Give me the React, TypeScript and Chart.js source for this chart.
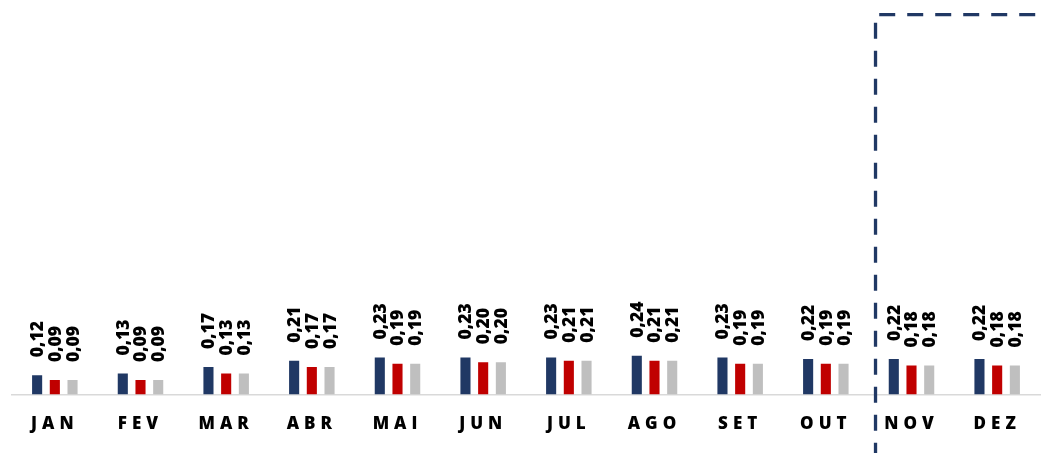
import React, { useEffect, useRef } from "react";
import { Chart, registerables } from "chart.js";

Chart.register(...registerables);

const categories = ["JAN", "FEV", "MAR", "ABR", "MAI", "JUN", "JUL", "AGO", "SET", "OUT", "NOV", "DEZ"];
const seriesNavy = [0.12, 0.13, 0.17, 0.21, 0.23, 0.23, 0.23, 0.24, 0.23, 0.22, 0.22, 0.22];
const seriesRed = [0.09, 0.09, 0.13, 0.17, 0.19, 0.2, 0.21, 0.21, 0.19, 0.19, 0.18, 0.18];
const seriesGray = [0.09, 0.09, 0.13, 0.17, 0.19, 0.2, 0.21, 0.21, 0.19, 0.19, 0.18, 0.18];
const seriesNames = ["Série 1", "Série 2", "Série 3"];
const boxStartIndex = 9.58;
const boxTopValue = 2.35;
const yMax = 2.44;

const NAVY = "#203864";
const RED = "#C00000";
const GRAY = "#BFBFBF";

const valueLabels = {
  id: "valueLabels",
  afterDatasetsDraw(chart: any) {
    const ctx = chart.ctx;
    ctx.save();
    ctx.letterSpacing = "0px";
    ctx.font = "800 17.5px 'Open Sans'";
    ctx.fillStyle = "#000000";
    ctx.textAlign = "left";
    ctx.textBaseline = "middle";
    chart.data.datasets.forEach((ds: any, i: number) => {
      const meta = chart.getDatasetMeta(i);
      meta.data.forEach((bar: any, j: number) => {
        const v = ds.data[j];
        const text = v.toFixed(2).replace(".", ",");
        ctx.save();
        ctx.translate(bar.x + 1, bar.y - 18);
        ctx.rotate(-Math.PI / 2);
        ctx.fillText(text, 0, 0);
        ctx.restore();
      });
    });
    ctx.restore();
  },
};

const tickSpacing = {
  id: "tickSpacing",
  beforeDraw(chart: any) {
    chart.ctx.letterSpacing = "5px";
  },
  beforeDatasetsDraw(chart: any) {
    chart.ctx.letterSpacing = "0px";
  },
};

const forecastBox = {
  id: "forecastBox",
  afterDraw(chart: any) {
    const { ctx } = chart;
    const x = chart.scales.x;
    const y = chart.scales.y;
    const left = x.getPixelForValue(boxStartIndex);
    const top = y.getPixelForValue(boxTopValue);
    const bottom = chart.height + 10;
    const right = chart.width + 20;
    const L = bottom - top;
    ctx.save();
    ctx.letterSpacing = "0px";
    ctx.strokeStyle = NAVY;
    ctx.lineWidth = 3.3;
    ctx.setLineDash([16, 12]);
    ctx.lineDashOffset = (((24.3 - L) % 28) + 28) % 28;
    ctx.beginPath();
    ctx.moveTo(left, bottom);
    ctx.lineTo(left, top);
    ctx.lineTo(right, top);
    ctx.stroke();
    ctx.restore();
  },
};

export default function App() {
  const canvasRef = useRef<HTMLCanvasElement>(null);

  useEffect(() => {
    document.body.style.margin = "0";
    const canvas = canvasRef.current;
    if (!canvas) return;
    const chart = new Chart(canvas, {
      type: "bar",
      data: {
        labels: categories,
        datasets: [
          { label: seriesNames[0], data: seriesNavy, backgroundColor: NAVY },
          { label: seriesNames[1], data: seriesRed, backgroundColor: RED },
          { label: seriesNames[2], data: seriesGray, backgroundColor: GRAY },
        ],
      },
      options: {
        animation: false,
        responsive: false,
        devicePixelRatio: 1,
        layout: { padding: { left: 12, right: 6, top: 0, bottom: 0 } },
        datasets: {
          bar: { categoryPercentage: 0.62, barPercentage: 0.57 },
        },
        plugins: {
          legend: { display: false },
          tooltip: { enabled: false },
          title: { display: false },
        },
        scales: {
          x: {
            grid: { display: false, drawTicks: false },
            border: { display: true, color: "#D9D9D9", width: 1.5 },
            ticks: {
              autoSkip: false,
              maxRotation: 0,
              minRotation: 0,
              padding: 19,
              color: "#000000",
              font: { family: "'Open Sans'", size: 17, weight: "800" },
            },
          },
          y: {
            display: false,
            min: 0,
            max: yMax,
          },
        },
      },
      plugins: [tickSpacing, valueLabels, forecastBox],
    });
    return () => chart.destroy();
  }, []);

  return (
    <div style={{ width: 1046, height: 453, position: "relative" }}>
      <canvas ref={canvasRef} width={1046} height={453} style={{ display: "block" }} />
    </div>
  );
}
